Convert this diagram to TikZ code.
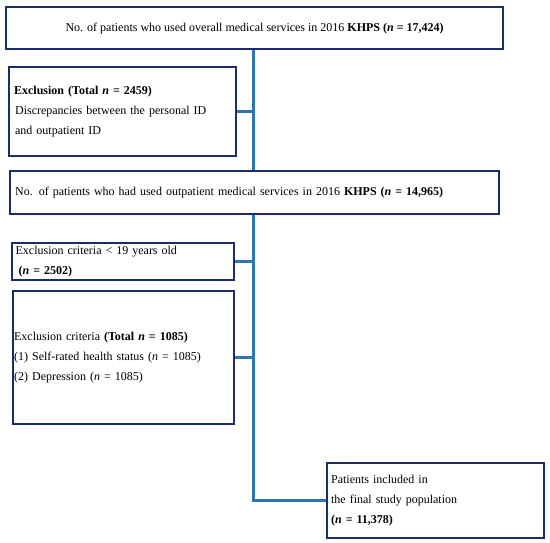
\documentclass[tikz,border=0pt]{standalone}
\usepackage{fontspec}
\setmainfont{Liberation Serif}
\definecolor{navy}{HTML}{1C2A6E}
\definecolor{linkblue}{HTML}{2E75B6}
\begin{document}
\begin{tikzpicture}[x=1pt,y=-1pt,
  box/.style={draw=navy,line width=2.2pt,fill=white,inner ysep=0pt,
    font=\fontsize{12}{20}\selectfont,anchor=north west},
  conn/.style={draw=linkblue,line width=3pt}]
\useasboundingbox (0,0) rectangle (550,543);
\node[box,minimum width=497pt,minimum height=42pt,align=center] (b1) at (5,6)
  {No. of patients who used overall medical services in 2016 \textbf{KHPS (\textit{n} = 17,424)}};
\node[box,text width=217pt,inner xsep=5pt,minimum height=89pt,align=left] (b2) at (8,66)
  {\textbf{Exclusion (Total \textit{n} = 2459)}\\
   \hspace*{1pt}Discrepancies between the personal ID\\
   \hspace*{1pt}and outpatient ID};
\node[box,text width=479pt,inner xsep=5pt,minimum height=43pt,align=left] (b3) at (9,170)
  {No. of patients who had used outpatient medical services in 2016 \textbf{KHPS (\textit{n} = 14,965)}};
\node[box,text width=214.5pt,inner xsep=4pt,minimum height=37pt,align=left] (b4) at (10.5,242)
  {Exclusion criteria < 19 years old\\
   \hspace*{3pt}\textbf{(\textit{n} = 2502)}};
\node[box,text width=219pt,inner xsep=1pt,minimum height=133pt,align=left] (b5) at (12,290)
  {Exclusion criteria \textbf{(Total \textit{n} = 1085)}\\
   (1) Self-rated health status (\textit{n} = 1085)\\
   (2) Depression (\textit{n} = 1085)};
\node[box,text width=209pt,inner xsep=4pt,minimum height=75pt,align=left] (b6) at (326,462)
  {Patients included in\\
   the final study population\\
   \textbf{(\textit{n} = 11,378)}};
\coordinate (sp) at (253,0);
\draw[conn] (b1.south -| sp) -- (b3.north -| sp);
\draw[conn] (b3.south -| sp) |- (b6.west);
\draw[conn] (b2.east) -- (b2.east -| sp);
\draw[conn] (b4.east) -- (b4.east -| sp);
\draw[conn] (b5.east) -- (b5.east -| sp);
\end{tikzpicture}
\end{document}
